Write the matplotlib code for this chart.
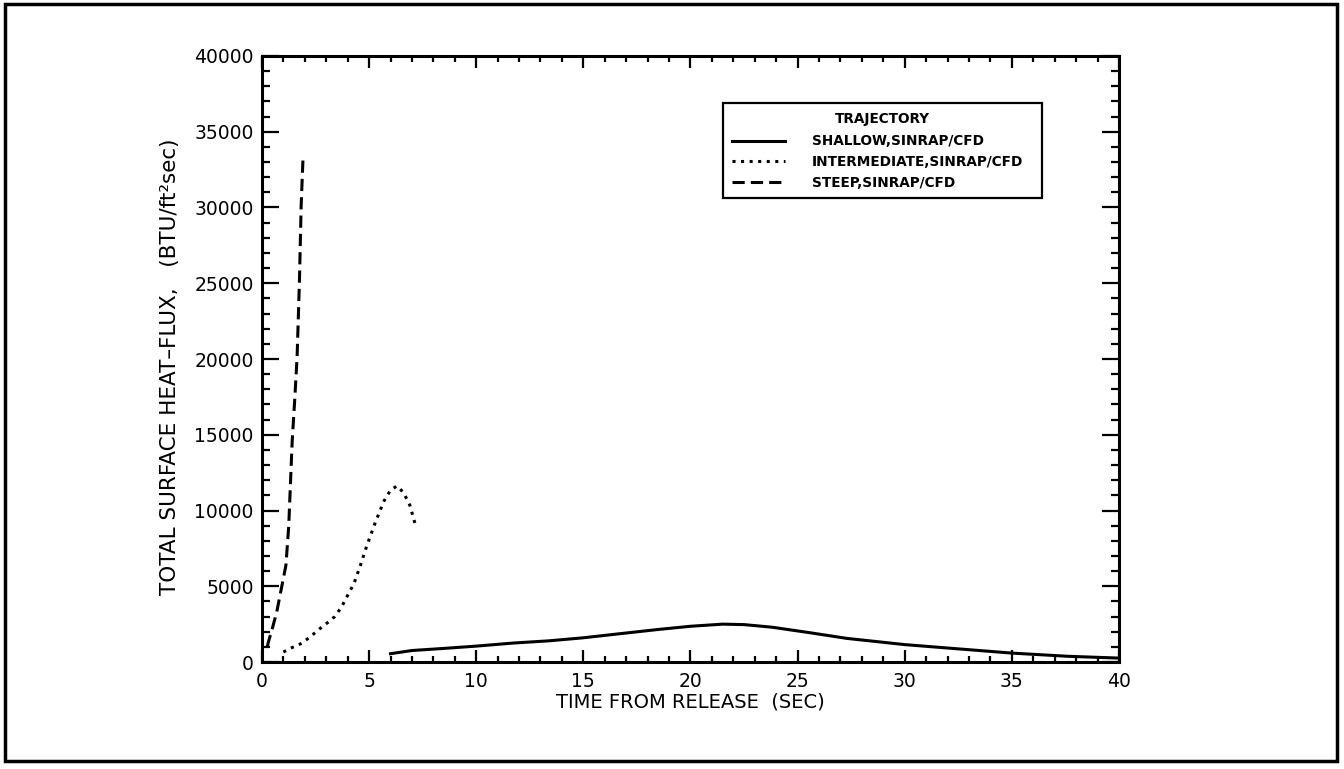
# Total surface heat-flux vs time from release, three trajectories

import matplotlib
matplotlib.use('Agg')
import matplotlib.pyplot as plt
from matplotlib.patches import Rectangle
from matplotlib.ticker import MultipleLocator

# Data (time in sec, heat-flux in BTU/ft^2 sec)
shallow_t = [6.0, 7.0, 8.5, 10.0, 11.7, 13.4, 15.0, 16.9, 18.5, 20.0, 21.5,
             22.5, 23.8, 25.5, 27.3, 30.0, 32.4, 35.0, 37.6, 40.0]
shallow_q = [550, 760, 900, 1050, 1250, 1400, 1600, 1900, 2150, 2360, 2500,
             2470, 2300, 1950, 1560, 1150, 880, 590, 380, 260]

inter_t = [1.0, 1.4, 1.8, 2.2, 2.7, 3.1, 3.4, 3.7, 4.0, 4.3, 4.6, 4.9, 5.3,
           5.7, 6.0, 6.3, 6.6, 6.9, 7.15]
inter_q = [660, 950, 1200, 1600, 2200, 2640, 3000, 3600, 4400, 5200, 6400,
           7700, 9250, 10640, 11340, 11620, 11200, 10360, 9110]

steep_t = [0.25, 0.3, 0.5, 0.69, 0.92, 1.12, 1.25, 1.33, 1.41, 1.53, 1.64,
           1.75, 1.83, 1.92]
steep_q = [1000, 1320, 2300, 3300, 4950, 6400, 8970, 11750, 14540, 17330,
           20110, 25130, 30140, 33400]

labels = ['SHALLOW,SINRAP/CFD', 'INTERMEDIATE,SINRAP/CFD', 'STEEP,SINRAP/CFD']

plt.rcParams['font.family'] = 'DejaVu Sans'

fig = plt.figure(figsize=(13.44, 7.69), dpi=100)
ax = fig.add_axes([0.1949, 0.1391, 0.6377, 0.7881])

ax.plot(shallow_t, shallow_q, color='black', linewidth=2.2, linestyle='-',
        label=labels[0])
ax.plot(inter_t, inter_q, color='black', linewidth=2.2,
        linestyle=(0, (1, 1.8)), label=labels[1])
ax.plot(steep_t, steep_q, color='black', linewidth=2.2,
        linestyle=(0, (4, 2)), label=labels[2])

ax.set_xlim(0, 40)
ax.set_ylim(0, 40000)
ax.xaxis.set_major_locator(MultipleLocator(5))
ax.xaxis.set_minor_locator(MultipleLocator(1))
ax.yaxis.set_major_locator(MultipleLocator(5000))
ax.yaxis.set_minor_locator(MultipleLocator(1000))

ax.tick_params(axis='both', which='both', direction='in', top=True,
               right=True, width=1.6, color='black')
ax.tick_params(axis='x', which='major', length=8.5, pad=7)
ax.tick_params(axis='x', which='minor', length=4.5)
ax.tick_params(axis='y', which='major', length=12, pad=6)
ax.tick_params(axis='y', which='minor', length=6)
ax.tick_params(axis='both', which='major', labelsize=13.5)

for s in ax.spines.values():
    s.set_linewidth(2.2)

ax.set_xlabel('TIME FROM RELEASE  (SEC)', fontsize=14, labelpad=1)
ax.set_ylabel('TOTAL SURFACE HEAT\u2013FLUX,   (BTU/ft\u00b2sec)',
              fontsize=15.5)
ax.yaxis.set_label_coords(-0.096, 0.488)

leg = ax.legend(title='TRAJECTORY', loc='upper left',
                bbox_to_anchor=(0.538, 0.5, 0.372, 0.422), mode='expand',
                borderaxespad=0, fancybox=False, framealpha=1,
                edgecolor='black', handlelength=3.9, handletextpad=2.0,
                labelspacing=0.48, borderpad=0.65,
                prop={'size': 9.8, 'weight': 'bold'},
                title_fontproperties={'size': 9.8, 'weight': 'bold'})
leg.get_frame().set_linewidth(1.6)
leg._legend_box.sep = 6

# outer frame round the whole page
fig.patches.append(Rectangle((0.004, 0.01), 0.991, 0.985,
                             transform=fig.transFigure, fill=False,
                             edgecolor='black', linewidth=2.5))

fig.savefig('out.png', dpi=100)
